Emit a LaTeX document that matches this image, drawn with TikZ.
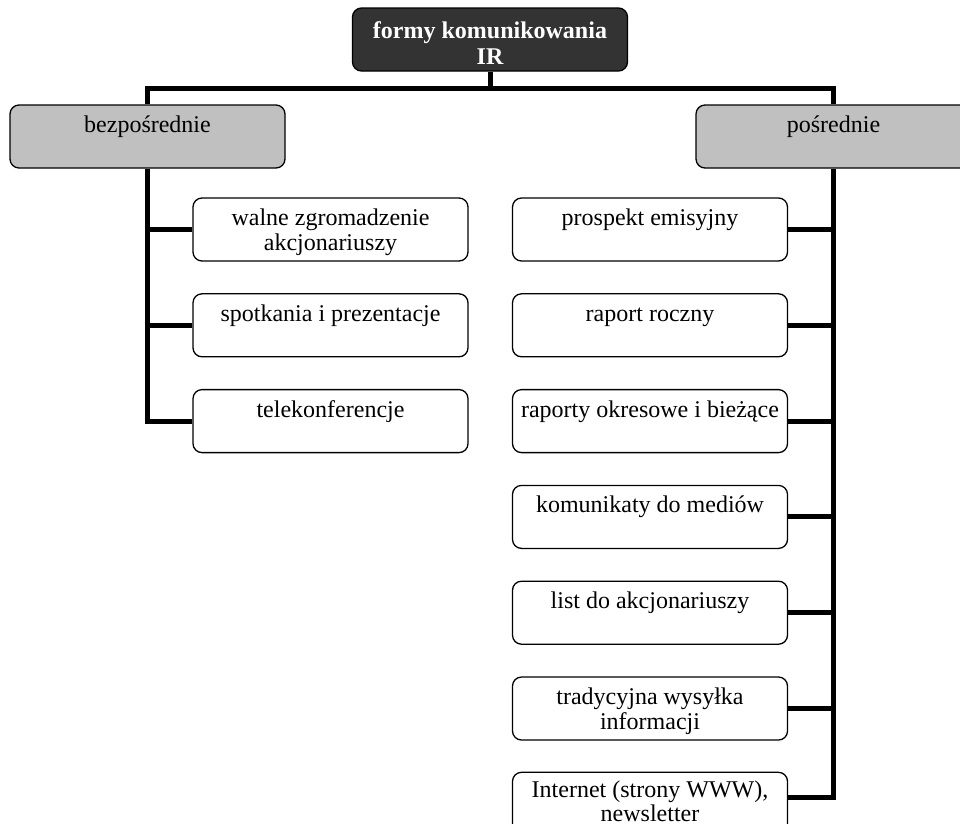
\documentclass[tikz,border=0pt]{standalone}
\usepackage{fontspec}
\setmainfont{Liberation Serif}
\usepackage{xcolor}
\usepackage{tikz}
\usetikzlibrary{
	positioning,
	calc
}
\definecolor{HeadGray}{RGB}{51,51,51}
\definecolor{GroupGray}{RGB}{192,192,192}
\newcommand{\chartfont}{\fontsize{24}{25}\selectfont}
\newcommand{\boxtxt}[2][10pt]{\parbox[c][63pt][t]{270pt}{\centering\vspace*{#1}\strut #2\par}}
\tikzset{
	box/.style={draw,line width=1.3pt,rounded corners=9pt,minimum width=275pt,minimum height=63pt,inner sep=0pt,font=\chartfont},
	headbox/.style={box,fill=HeadGray,text=white,font=\chartfont\bfseries},
	groupbox/.style={box,fill=GroupGray},
	itembox/.style={box,fill=white},
	bus/.style={line width=5pt}
}
\begin{document}
\begin{tikzpicture}[x=1pt,y=-1pt]
		\useasboundingbox (0,0) rectangle (960,823);
		
		% korzen i dwie grupy
		\node[headbox] (forms) at (490,39.5) {\boxtxt[12.5pt]{formy komunikowania\\[1pt]IR}};
		\node[groupbox] (direct) at (147.5,136.5) {\boxtxt{bezpośrednie}};
		\node[groupbox] (indirect) at (833.5,136.5) {\boxtxt{pośrednie}};
		
		% formy bezposrednie
		\node[itembox] (meeting) at (330.5,229.5) {\boxtxt{walne zgromadzenie\\akcjonariuszy}};
		\node[itembox,below=31.5pt of meeting] (present) {\boxtxt{spotkania i prezentacje}};
		\node[itembox,below=31.5pt of present] (teleconf) {\boxtxt{telekonferencje}};
		
		% formy posrednie
		\node[itembox] (prospect) at (650,229.5) {\boxtxt{prospekt emisyjny}};
		\node[itembox,below=31.5pt of prospect] (annual) {\boxtxt{raport roczny}};
		\node[itembox,below=31.5pt of annual] (periodic) {\boxtxt{raporty okresowe i bieżące}};
		\node[itembox,below=31.5pt of periodic] (media) {\boxtxt{komunikaty do mediów}};
		\node[itembox,below=31.5pt of media] (letter) {\boxtxt{list do akcjonariuszy}};
		\node[itembox,below=31.5pt of letter] (mailing) {\boxtxt{tradycyjna wysyłka\\informacji}};
		\node[itembox,below=31pt of mailing] (web) {\boxtxt[8pt]{Internet (strony WWW),\\[-1pt]newsletter}};
		
		% szyna od korzenia
		\coordinate (fork) at ($(forms.south)+(0,17)$);
		\draw[bus] (forms.south) -- (fork);
		\draw[bus] (direct.north) |- (fork) -| (indirect.north);
		
		% lewa galaz
		\draw[bus] (direct.south) |- (teleconf.west);
		\foreach \n in {meeting,present}
			\draw[bus] (\n.west) -- (\n.west -| direct.south);
		
		% prawa galaz, ostatnia pozioma nieco wyzej
		\draw[bus] (indirect.south) |- ([yshift=6pt]web.east);
		\foreach \n in {prospect,annual,periodic,media,letter,mailing}
			\draw[bus] (\n.east) -- (\n.east -| indirect.south);
	\end{tikzpicture}
\end{document}
